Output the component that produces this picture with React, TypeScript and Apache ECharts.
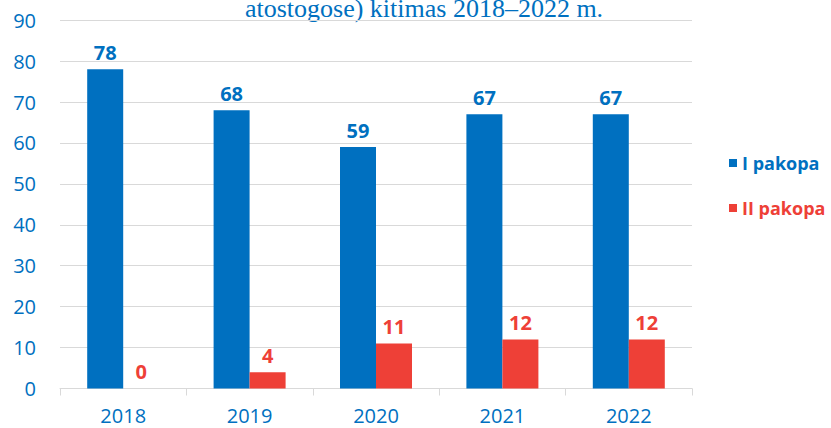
import React, { useEffect, useRef } from "react";
import * as echarts from "echarts";

const categories = ["2018", "2019", "2020", "2021", "2022"];
const seriesNames = ["I pakopa", "II pakopa"];
const stage1 = [78, 68, 59, 67, 67];
const stage2 = [0, 4, 11, 12, 12];
const titleText = "atostogose) kitimas 2018–2022 m.";

const BLUE = "#0070C0";
const RED = "#EE4037";
const GRID = "#D9D9D9";
const FONT = "'Open Sans', 'Noto Sans', sans-serif";

export default function App() {
  const ref = useRef<HTMLDivElement>(null);
  useEffect(() => {
    if (!ref.current) return;
    const chart = echarts.init(ref.current, undefined, { renderer: "svg" });
    chart.setOption({
      animation: false,
      backgroundColor: "#ffffff",
      grid: { left: 60, right: 139, top: 20.2, bottom: 39.5, containLabel: false },
      legend: {
        orient: "vertical",
        left: 724,
        top: 149,
        itemWidth: 8,
        itemHeight: 8,
        itemGap: 27,
        icon: "rect",
        textStyle: { fontFamily: FONT, fontSize: 18, fontWeight: "bold" },
        data: [
          { name: seriesNames[0], textStyle: { color: BLUE } },
          { name: seriesNames[1], textStyle: { color: RED } },
        ],
      },
      graphic: [
        {
          type: "text",
          x: 424,
          y: 8,
          style: {
            text: titleText,
            fill: BLUE,
            font: "26px 'Liberation Serif', serif",
            textAlign: "center",
            textVerticalAlign: "middle",
          },
        },
      ],
      xAxis: {
        type: "category",
        data: categories,
        axisLine: { lineStyle: { color: GRID, width: 1 } },
        axisTick: { show: true, length: 7, lineStyle: { color: GRID } },
        axisLabel: { color: BLUE, fontFamily: FONT, fontSize: 20, margin: 17 },
      },
      yAxis: {
        type: "value",
        min: 0,
        max: 90,
        interval: 10,
        axisLine: { show: false },
        axisTick: { show: false },
        splitLine: { lineStyle: { color: GRID, width: 1 } },
        axisLabel: { color: BLUE, fontFamily: FONT, fontSize: 20, margin: 24 },
      },
      series: [
        {
          name: seriesNames[0],
          type: "bar",
          data: stage1,
          barWidth: 36,
          barGap: "0%",
          itemStyle: { color: BLUE },
          label: {
            show: true,
            position: "top",
            distance: 7,
            color: BLUE,
            fontFamily: FONT,
            fontSize: 20,
            fontWeight: "bold",
          },
        },
        {
          name: seriesNames[1],
          type: "bar",
          data: stage2,
          barWidth: 36,
          barGap: "0%",
          itemStyle: { color: RED },
          label: {
            show: true,
            position: "top",
            distance: 7,
            color: RED,
            fontFamily: FONT,
            fontSize: 20,
            fontWeight: "bold",
          },
        },
      ],
    });
    return () => chart.dispose();
  }, []);
  return (
    <div
      ref={ref}
      style={{ position: "fixed", left: 0, top: 0, width: 831, height: 428 }}
    />
  );
}
